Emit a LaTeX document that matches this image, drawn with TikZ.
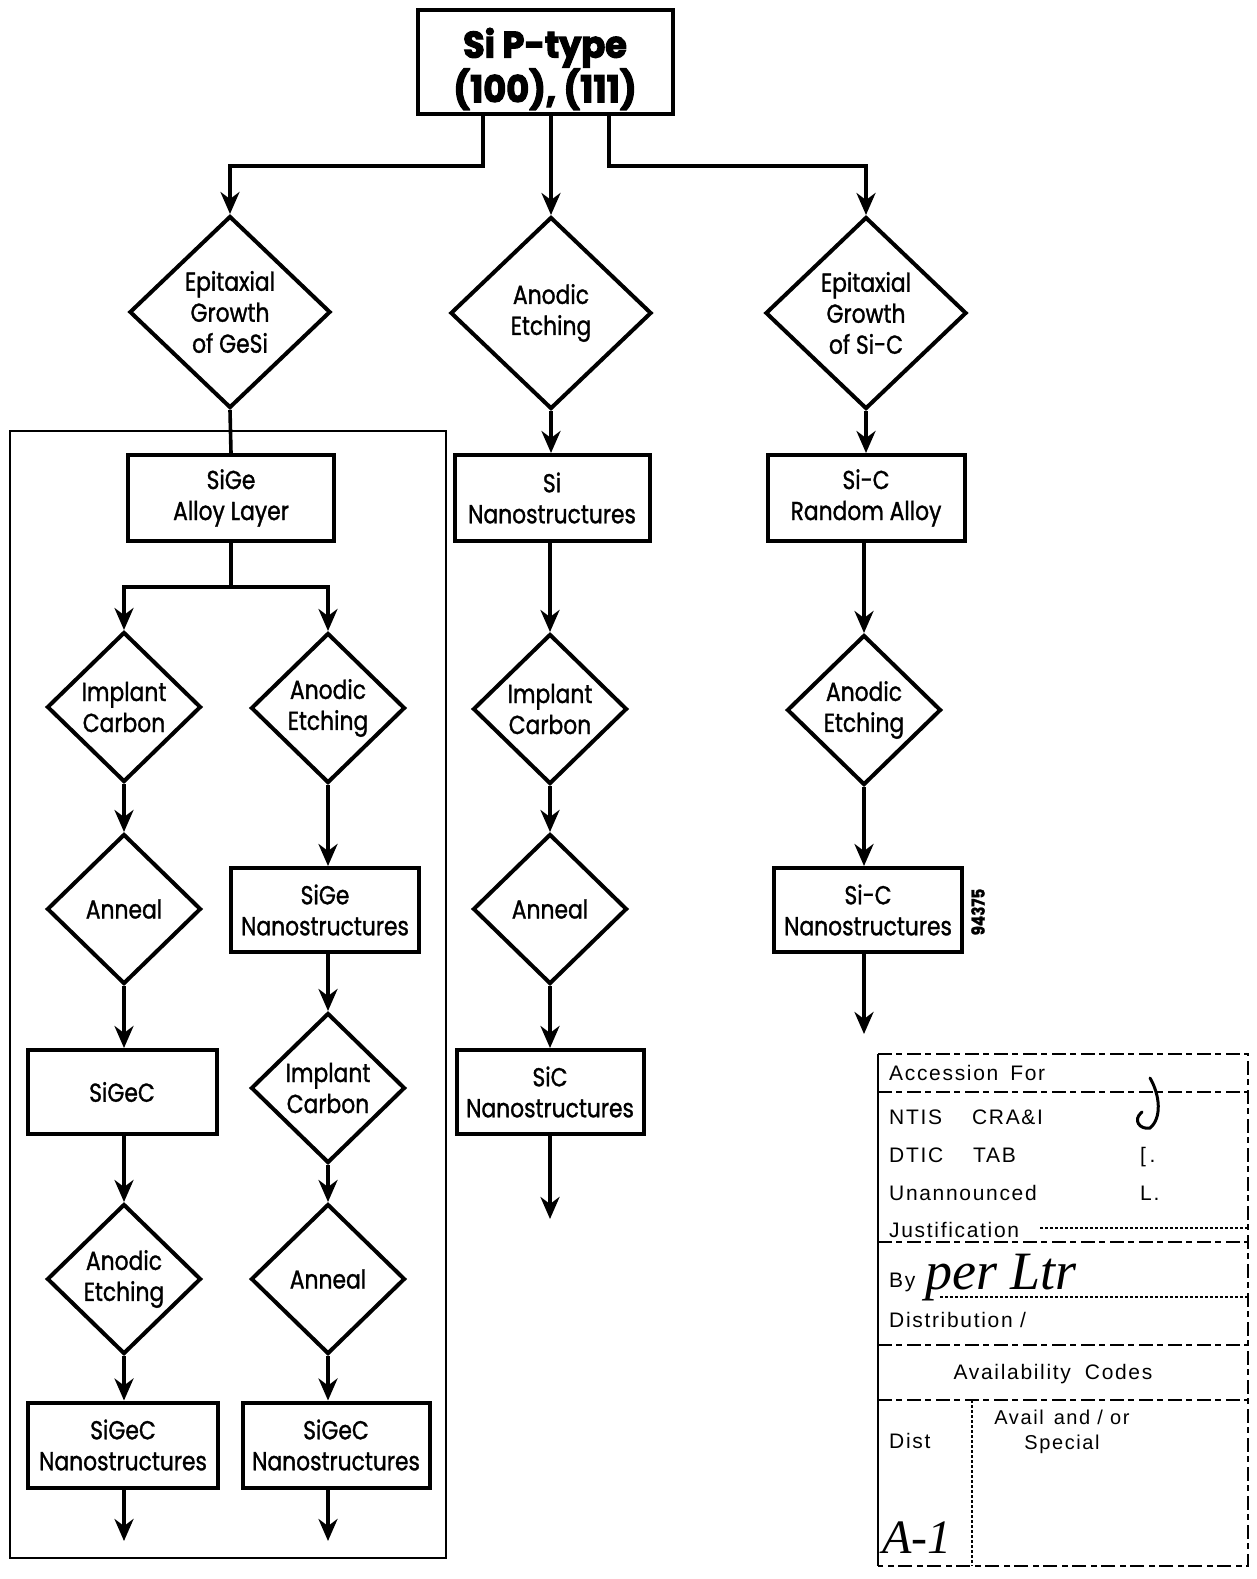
\documentclass[tikz,border=0pt]{standalone}
\usepackage{fontspec}
\setmainfont{Poppins}[FakeStretch=0.84, FakeBold=1.2]
\newfontfamily\topfont{Poppins}[FakeStretch=0.95, FakeBold=3]
\newfontfamily\formfont{Liberation Sans}[LetterSpace=8]
\newfontfamily\handfont{Liberation Serif}
\usetikzlibrary{shapes.geometric,arrows.meta}
\begin{document}
\begin{tikzpicture}[x=1pt,y=-1pt,
  flow/.style={font=\fontsize{26}{31}\selectfont, align=center, inner sep=0pt},
  box/.style={flow, draw, line width=4pt, rectangle},
  dia/.style={flow, draw, line width=4pt, diamond},
  bigdia/.style={dia, minimum width=201pt, minimum height=192pt},
  smalldia/.style={dia, minimum width=154pt, minimum height=150pt},
  bw/.style={minimum width=206pt, minimum height=86pt},
  sw/.style={minimum width=188pt, minimum height=84pt},
  arr/.style={line width=3.6pt, -{Stealth[length=22pt,width=19pt,inset=7pt]}},
  ln/.style={line width=3.6pt},
  frm/.style={font=\formfont\fontsize{21}{24}\selectfont, inner sep=0pt, anchor=west},
  fline/.style={line width=1.8pt, dash pattern=on 14pt off 4pt on 6pt off 5pt},
  dotl/.style={line width=1.4pt, dash pattern=on 3pt off 2pt}
]
\useasboundingbox (0,0) rectangle (1257,1579);

% top
\node[box, minimum width=255pt, minimum height=104pt] (top) at (545,62) {};
\node[flow, font=\topfont\bfseries\fontsize{37}{41}\selectfont] (toptext) at (545,69) {Si P-type\\(100), (111)};

% row 1 diamonds
\node[bigdia] (d1) at (230,312) {Epitaxial\\Growth\\of GeSi};
\node[bigdia] (d2) at (551,313) {Anodic\\Etching};
\node[bigdia] (d3) at (866,313) {Epitaxial\\Growth\\of Si-C};

\coordinate (tl) at (483,114);
\coordinate (tr) at (609,114);
\draw[arr] (tl) -- (483,166) -- (230,166) -- (d1.north);
\draw[arr] (top.south -| d2.north) -- (d2.north);
\draw[arr] (tr) -- (609,166) -- (866,166) -- (d3.north);

% enclosure
\draw[line width=1.6pt] (10,431) rectangle (446,1558);

% row 2 boxes
\node[box, bw] (sige) at (231,498) {SiGe\\Alloy Layer};
\node[box, minimum width=195pt, minimum height=86pt] (sinano) at (552,498) {Si\\Nanostructures};
\node[box, minimum width=197pt, minimum height=86pt] (sicra) at (866,498) {Si-C\\Random Alloy};

\draw[ln] (d1.south) -- (sige.north);
\draw[arr] (d2.south) -- (sinano.north -| d2.south);
\draw[arr] (d3.south) -- (sicra.north -| d3.south);

% left column
\node[smalldia] (ic1) at (124,707) {Implant\\Carbon};
\node[smalldia] (an1) at (124,909) {Anneal};
\node[box, minimum width=189pt, minimum height=84pt] (sigec) at (122,1092) {SiGeC};
\node[smalldia] (ae1) at (124,1279) {Anodic\\Etching};
\node[box, minimum width=190pt, minimum height=85pt] (sgn1) at (123,1445) {SiGeC\\Nanostructures};
\coordinate (e1) at (124,1541);

% second column
\node[smalldia] (ae2) at (328,708) {Anodic\\Etching};
\node[box, sw] (sgnano) at (325,910) {SiGe\\Nanostructures};
\node[smalldia] (ic2) at (328,1088) {Implant\\Carbon};
\node[smalldia] (an2) at (328,1279) {Anneal};
\node[box, minimum width=187pt, minimum height=85pt] (sgn2) at (336,1445) {SiGeC\\Nanostructures};
\coordinate (e2) at (328,1541);

\draw[ln] (sige.south) -- (231,587);
\draw[arr] (231,587) -- (124,587) -- (ic1.north);
\draw[arr] (231,587) -- (328,587) -- (ae2.north);
\draw[arr] (ic1.south) -- (an1.north);
\draw[arr] (an1.south) -- (sigec.north -| an1.south);
\draw[arr] (sigec.south -| ae1.north) -- (ae1.north);
\draw[arr] (ae1.south) -- (sgn1.north -| ae1.south);
\draw[arr] (sgn1.south -| e1) -- (e1);

\draw[arr] (ae2.south) -- (sgnano.north -| ae2.south);
\draw[arr] (sgnano.south -| ic2.north) -- (ic2.north);
\draw[arr] (ic2.south) -- (an2.north);
\draw[arr] (an2.south) -- (sgn2.north -| an2.south);
\draw[arr] (sgn2.south -| e2) -- (e2);

% middle column
\node[smalldia] (ic3) at (550,709) {Implant\\Carbon};
\node[smalldia] (an3) at (550,909) {Anneal};
\node[box, minimum width=187pt, minimum height=84pt] (sicnano) at (550,1092) {SiC\\Nanostructures};
\coordinate (e3) at (550,1219);
\draw[arr] (sinano.south -| ic3.north) -- (ic3.north);
\draw[arr] (ic3.south) -- (an3.north);
\draw[arr] (an3.south) -- (sicnano.north);
\draw[arr] (sicnano.south) -- (e3);

% right column
\node[smalldia] (ae4) at (864,710) {Anodic\\Etching};
\node[box, minimum width=188pt, minimum height=84pt] (scnano) at (868,910) {Si-C\\Nanostructures};
\coordinate (e4) at (864,1034);
\draw[arr] (sicra.south -| ae4.north) -- (ae4.north);
\draw[arr] (ae4.south) -- (scnano.north -| ae4.south);
\draw[arr] (scnano.south -| e4) -- (e4);
\node[font=\bfseries\fontsize{18}{20}\selectfont, rotate=90, inner sep=0pt] (num) at (978,912) {94375};

% accession form
\draw[line width=2.6pt] (878,1054) -- (878,1566);
\draw[fline] (878,1054) -- (1248,1054) -- (1248,1566) -- (878,1566);
\draw[fline] (878,1092) -- (1248,1092);
\draw[fline] (878,1242) -- (1248,1242);
\draw[fline] (878,1345) -- (1248,1345);
\draw[fline] (878,1400) -- (1248,1400);
\draw[dotl] (972,1400) -- (972,1566);
\draw[dotl] (1040,1228) -- (1248,1228);
\draw[dotl] (940,1297) -- (1248,1297);

\node[frm] (acc) at (889,1073) {Accession\hspace{12pt}For};
\node[frm] (ntis) at (889,1117) {NTIS\hspace{30pt}CRA\&I};
\node[frm] (dtic) at (889,1155) {DTIC\hspace{30pt}TAB};
\node[frm] (unan) at (889,1193) {Unannounced};
\node[frm] (just) at (889,1230) {Justification};
\node[frm] (by) at (889,1282) {By};
\node[frm] (dist) at (889,1320) {Distribution /};
\node[frm, anchor=center] (avc) at (1053,1374) {Availability\hspace{14pt}Codes};
\node[frm] (dst) at (889,1441) {Dist};
\node[frm, anchor=center, align=center, font=\formfont\fontsize{20}{25}\selectfont] (aao) at (1062,1432) {Avail\hspace{10pt}and / or\\Special};
\node[frm] (b2) at (1140,1157) {[\,.};
\node[frm] (b3) at (1140,1193) {L.};
\node[font=\handfont\itshape\fontsize{54}{54}\selectfont, inner sep=0pt, anchor=west] (sig) at (925,1278) {per Ltr};
\node[font=\handfont\itshape\fontsize{48}{48}\selectfont, inner sep=0pt, anchor=west] (a1) at (882,1538) {A-1};
\draw[line width=3pt, line cap=round] (1150,1078) .. controls (1160,1095) and (1162,1118) .. (1150,1128) .. controls (1140,1130) and (1132,1120) .. (1142,1112);
\end{tikzpicture}
\end{document}
